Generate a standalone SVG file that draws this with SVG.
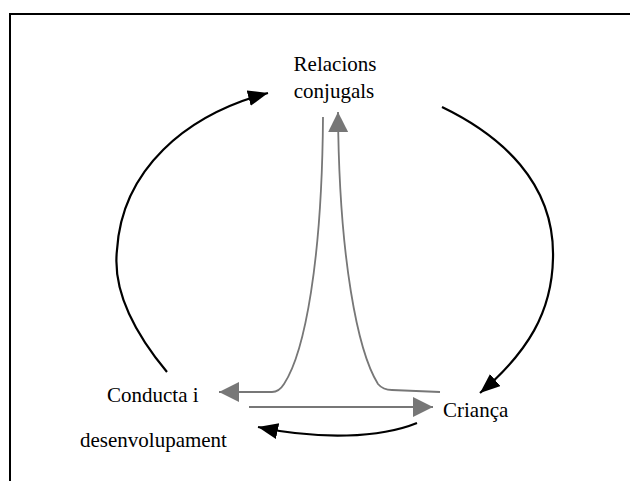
<svg xmlns="http://www.w3.org/2000/svg" width="630" height="481" viewBox="0 0 630 481">
<defs>
<style>
text{font-family:"Liberation Serif","Times New Roman",serif;font-size:21px;fill:#000}
.blk{fill:none;stroke:#000;stroke-width:2.2}
.gry{fill:none;stroke:#777;stroke-width:1.8}
</style>
<marker id="ab" markerUnits="userSpaceOnUse" markerWidth="22" markerHeight="18" refX="20" refY="8" orient="auto">
<path d="M0,0 L20,8 L0,16 Z" fill="#000"/>
</marker>
<marker id="ag" markerUnits="userSpaceOnUse" markerWidth="22" markerHeight="22" refX="20" refY="10" orient="auto">
<path d="M0,0 L20,10 L0,20 Z" fill="#777"/>
</marker>
</defs>
<rect width="630" height="481" fill="#fff"/>
<path d="M10,481 L10,14 L630,14" fill="none" stroke="#000" stroke-width="2"/>
<g id="n-relacions"><text x="335" y="71" text-anchor="middle">Relacions</text><text x="334" y="98" text-anchor="middle">conjugals</text></g>
<g id="n-conducta"><text x="107" y="402">Conducta i</text><text x="80" y="447">desenvolupament</text></g>
<g id="n-crianca"><text x="443" y="417">Criança</text></g>
<g id="connectors">
<path class="blk" d="M167,372 C128,325 113,285 117,250 C122,170 185,115 268,93" marker-end="url(#ab)"/>
<path class="blk" d="M442,107 C500,135 555,182 553,258 C552,312 528,352 480,393" marker-end="url(#ab)"/>
<path class="blk" d="M417,423 C380,438 320,440 258,427" marker-end="url(#ab)"/>
<path class="gry" d="M323,117 C322,260 305,352 284,384 Q279,392 272,392 L219,392" marker-end="url(#ag)"/>
<path class="gry" d="M440,392 L392,390 Q383,390 378,384 C358,352 339,260 338,112" marker-end="url(#ag)"/>
<path class="gry" d="M249,407 L433,407" marker-end="url(#ag)"/>
</g>
</svg>
